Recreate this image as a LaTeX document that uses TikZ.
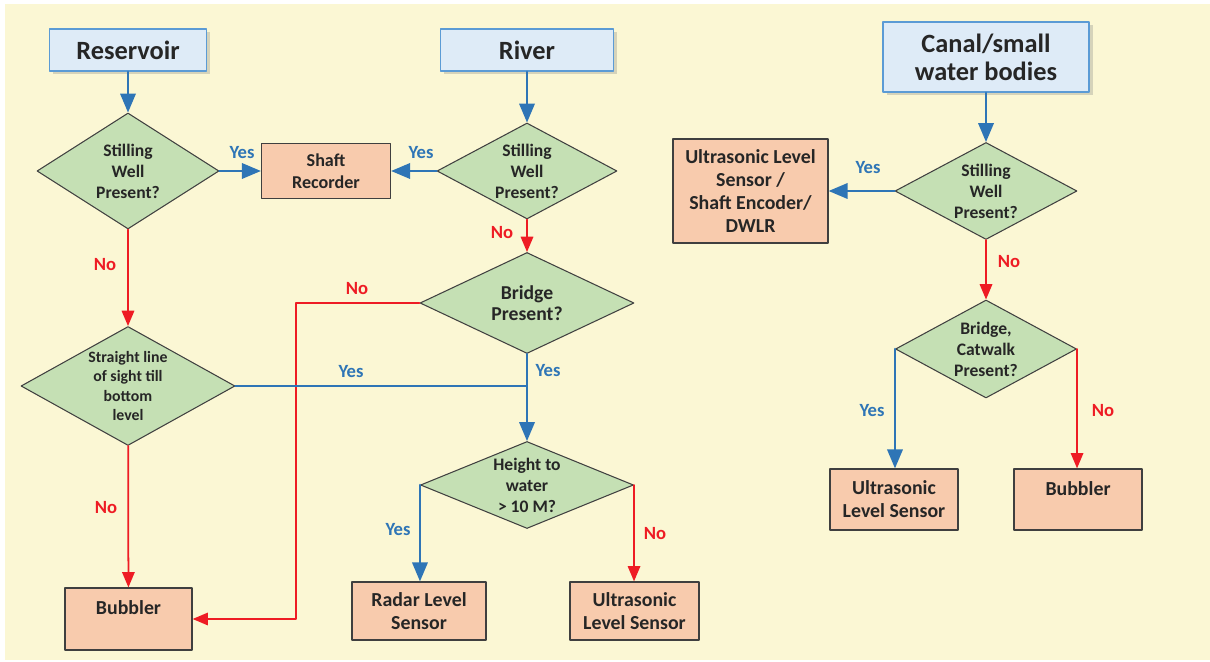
\documentclass[tikz,border=0pt]{standalone}
\usepackage{fontspec}
\setmainfont{Carlito}
\usepackage{pgf,tikz}
\usetikzlibrary{arrows,shapes.geometric,shadows}
\definecolor{fbfxdu}{RGB}{251,247,212}
\definecolor{sexvbw}{RGB}{46,117,182}
\definecolor{eercsu}{RGB}{238,28,36}
\definecolor{deebfx}{RGB}{222,235,247}
\definecolor{vbzbdv}{RGB}{91,155,213}
\definecolor{swswsw}{RGB}{38,38,38}
\definecolor{fycbad}{RGB}{248,203,173}
\definecolor{cveqbu}{RGB}{197,224,180}
\definecolor{tftftf}{RGB}{63,63,63}
\definecolor{uququq}{RGB}{64,64,64}

\begin{document}
\begin{tikzpicture}[line cap=round,line join=round,>=triangle 45,x=1.0cm,y=1.0cm,
	srcbox/.style={draw=vbzbdv,line width=1.1pt,fill=deebfx,text=swswsw,align=center,inner sep=0pt,minimum height=0.84cm,font=\fontsize{15}{16}\selectfont\bfseries,drop shadow={shadow xshift=0.07cm,shadow yshift=-0.07cm,opacity=0.3}},
	endbox/.style={draw=tftftf,line width=0.8pt,fill=fycbad,text=swswsw,align=center,inner sep=0pt,font=\fontsize{11.3}{13}\selectfont\bfseries},
	ask/.style={diamond,draw=uququq,line width=0.6pt,fill=cveqbu,text=swswsw,align=center,inner sep=-2pt,font=\fontsize{10}{12}\selectfont\bfseries},
	blueflow/.style={color=sexvbw,line width=1.5pt},
	redflow/.style={color=eercsu,line width=1.0pt},
	yeslbl/.style={text=sexvbw,font=\fontsize{10.6}{12}\selectfont\bfseries},
	nolbl/.style={text=eercsu,font=\fontsize{10.6}{12}\selectfont\bfseries}]
	\useasboundingbox (0.,0.) rectangle (24.2,13.22);
	\fill[color=fbfxdu] (0.1,0.02) rectangle (24.2,13.14);
	% sources
	\draw (2.56,12.22) node[srcbox,minimum width=3.14cm] (res) {Reservoir};
	\draw (10.54,12.22) node[srcbox,minimum width=3.46cm] (riv) {River};
	\draw (19.72,12.08) node[srcbox,minimum width=4.12cm,minimum height=1.4cm] (can) {Canal/small\\water bodies};
	% questions
	\draw (2.56,9.8) node[ask,minimum width=3.64cm,minimum height=2.32cm,aspect=1.57] (swres) {Stilling\\Well\\Present?};
	\draw (10.54,9.8) node[ask,minimum width=3.6cm,minimum height=1.92cm,aspect=1.875] (swriv) {Stilling\\Well\\Present?};
	\draw (10.54,7.16) node[ask,minimum width=4.28cm,minimum height=2.02cm,aspect=2.12,font=\fontsize{11.2}{11.8}\selectfont\bfseries] (bri) {Bridge\\Present?};
	\draw (2.56,5.5) node[ask,minimum width=4.28cm,minimum height=2.38cm,aspect=1.8,font=\fontsize{9}{11}\selectfont\bfseries] (sight) {Straight line\\of sight till\\bottom\\level};
	\draw (10.54,3.52) node[ask,minimum width=4.26cm,minimum height=1.74cm,aspect=2.45] (hgt) {Height to\\water\\> 10 M?};
	\draw (19.72,9.4) node[ask,minimum width=3.64cm,minimum height=1.94cm,aspect=1.88] (swcan) {Stilling\\Well\\Present?};
	\draw (19.72,6.24) node[ask,minimum width=3.62cm,minimum height=1.96cm,aspect=1.85] (cat) {Bridge,\\Catwalk\\Present?};
	% sensors
	\draw (6.52,9.8) node[endbox,minimum width=2.58cm,minimum height=1.1cm,font=\fontsize{10.3}{12.5}\selectfont\bfseries] (shaft) {Shaft\\Recorder};
	\draw (2.57,0.84) node[endbox,minimum width=2.54cm,minimum height=1.24cm,text height=0.3cm,text depth=0.5cm] (bubres) {Bubbler};
	\draw (8.38,1.) node[endbox,minimum width=2.68cm,minimum height=1.16cm] (radar) {Radar Level\\Sensor};
	\draw (12.69,1.) node[endbox,minimum width=2.58cm,minimum height=1.16cm] (ultriv) {Ultrasonic\\Level Sensor};
	\draw (15.01,9.4) node[endbox,minimum width=3.1cm,minimum height=2.08cm] (dwlr) {Ultrasonic Level\\Sensor /\\Shaft Encoder/\\DWLR};
	\draw (17.88,3.23) node[endbox,minimum width=2.56cm,minimum height=1.22cm] (ultcan) {Ultrasonic\\Level Sensor};
	\draw (21.56,3.23) node[endbox,minimum width=2.56cm,minimum height=1.22cm,text height=0.3cm,text depth=0.46cm] (bubcan) {Bubbler};
	\coordinate (brino) at (5.92,7.16);
	% connectors
	\draw [blueflow,->] (res) -- (swres);
	\draw [blueflow,->] (riv) -- (swriv);
	\draw [blueflow,->] (can) -- (swcan);
	\draw [blueflow,->] (swres) -- (shaft);
	\draw [blueflow,->] (swriv) -- (shaft);
	\draw [blueflow,->] (swcan) -- (dwlr);
	\draw [redflow,->] (swres) -- (sight);
	\draw [redflow,->] (swriv) -- (bri);
	\draw [redflow,->] (swcan) -- (cat);
	\draw [redflow,->] (bri.west) -- (brino) |- (bubres.east);
	\draw [redflow,->] (sight) -- (bubres);
	\draw [blueflow] (bri.south) -- (bri.south |- sight.east);
	\draw [blueflow,->] (sight.east) -| (hgt.north);
	\draw [blueflow,->] (hgt.west) -- (hgt.west |- radar.north);
	\draw [redflow,->] (hgt.east) -- (hgt.east |- ultriv.north);
	\draw [blueflow,->] (cat.west) -- (cat.west |- ultcan.north);
	\draw [redflow,->] (cat.east) -- (cat.east |- bubcan.north);
	% answers
	\draw (4.84,10.16) node[yeslbl] (yes1) {Yes};
	\draw (8.42,10.16) node[yeslbl] (yes2) {Yes};
	\draw (2.1,7.92) node[nolbl] (no1) {No};
	\draw (10.04,8.56) node[nolbl] (no2) {No};
	\draw (7.14,7.44) node[nolbl] (no3) {No};
	\draw (7.02,5.78) node[yeslbl] (yes3) {Yes};
	\draw (10.96,5.8) node[yeslbl] (yes4) {Yes};
	\draw (2.12,3.06) node[nolbl] (no4) {No};
	\draw (7.96,2.62) node[yeslbl] (yes5) {Yes};
	\draw (13.1,2.54) node[nolbl] (no5) {No};
	\draw (17.36,9.86) node[yeslbl] (yes6) {Yes};
	\draw (20.18,7.98) node[nolbl] (no6) {No};
	\draw (17.44,5.) node[yeslbl] (yes7) {Yes};
	\draw (22.06,5.) node[nolbl] (no7) {No};
\end{tikzpicture}
\end{document}
